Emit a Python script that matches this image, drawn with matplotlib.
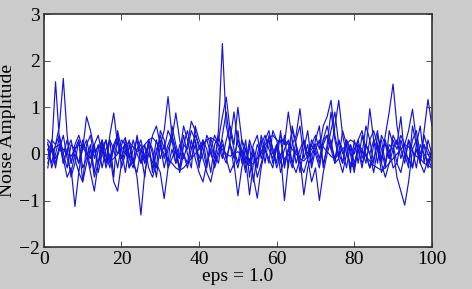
import numpy as np
import matplotlib
matplotlib.use("Agg")
import matplotlib.pyplot as plt

x = np.arange(1, 101)

s1 = [0.2, 0.1, 1.55, 0.3, -0.2, 0.1, 0.3, -0.1, -0.4, 0.2,
      0.1, -0.3, 0.2, 0.4, 0.0, -0.2, 0.3, 0.1, -0.3, 0.2,
      0.35, -0.1, -0.3, 0.1, 0.2, -0.2, 0.0, 0.4, 0.6, 0.2,
      0.5, 1.23, 0.4, 0.1, -0.3, 0.2, 0.1, 0.5, 0.3, -0.1,
      0.2, 0.3, 0.0, -0.2, 0.5, 2.37, 0.6, 0.2, -0.1, 0.3,
      0.1, -0.2, 0.3, 0.0, -0.3, 0.2, 0.4, 0.1, -0.1, 0.2,
      0.3, -0.2, 0.1, 0.5, 0.2, -0.1, 0.3, 0.0, 0.2, 0.4,
      0.1, 0.6, 0.8, 1.15, 0.4, 0.0, -0.2, 0.3, 0.1, -0.3,
      0.2, 0.1, -0.2, 0.3, 0.5, 0.2, -0.1, 0.4, 0.9, 1.5,
      0.6, 0.1, -0.2, 0.3, 0.1, -0.3, 0.2, 0.0, -0.2, 0.1]

s2 = [-0.1, 0.3, 0.2, 0.6, 1.62, 0.4, -0.2, 0.1, 0.3, -0.3,
      -0.1, 0.2, -0.4, 0.1, 0.3, -0.2, 0.4, 0.88, 0.2, -0.1,
      0.2, -0.3, 0.1, 0.3, -0.2, 0.0, 0.2, -0.4, 0.1, 0.3,
      -0.1, 0.2, 0.4, 0.0, -0.3, 0.2, 0.5, 0.1, 0.3, -0.2,
      0.0, 0.4, 0.2, -0.1, 0.3, 0.8, 1.22, 0.5, 0.1, -0.2,
      0.3, 0.1, -0.2, 0.2, 0.4, -0.1, 0.2, 0.3, -0.2, 0.1,
      0.4, 0.2, 0.9, 0.3, -0.2, 0.1, 0.3, -0.1, 0.2, 0.0,
      -0.3, 0.2, 0.4, 0.1, -0.2, 0.3, 0.0, 0.2, -0.3, 0.1,
      0.3, -0.1, 0.2, 0.0, -0.4, 0.1, 0.3, -0.2, 0.2, 0.1,
      -0.5, -0.8, -1.1, -0.6, 0.1, 0.3, -0.2, 0.5, 1.17, 0.6]

s3 = [-0.2, 0.1, -0.3, 0.2, -0.1, -0.5, -0.3, -1.13, -0.4, -0.6,
      -0.2, 0.1, -0.5, -0.2, 0.2, -0.3, 0.0, -0.6, -0.8, -0.2,
      0.1, -0.3, -0.1, -0.5, -1.31, -0.4, 0.0, -0.2, 0.3, -0.1,
      0.2, -0.3, -0.1, 0.1, -0.4, 0.0, -0.2, 0.3, -0.1, -0.4,
      -0.6, -0.2, 0.1, -0.3, 0.0, 0.2, -0.1, -0.4, -0.2, -0.9,
      -0.3, 0.1, -0.2, 0.0, -0.5, -0.2, 0.1, -0.1, -0.3, 0.2,
      -0.4, -0.1, 0.0, -0.3, 0.1, -0.2, -0.4, -0.1, -0.6, -0.3,
      -1.0, -0.4, 0.0, 0.3, -0.2, -0.1, -0.4, 0.0, -0.2, -0.3,
      0.1, -0.2, 0.0, -0.3, -0.1, 0.2, -0.4, -0.2, 0.1, -0.3,
      -0.2, -0.4, 0.0, -0.1, -0.3, 0.1, -0.2, -0.4, -0.1, -0.3]

s4 = [0.3, 0.2, -0.1, 0.1, 0.0, 0.3, -0.2, 0.2, 0.4, 0.1,
      0.8, 0.5, 0.1, -0.2, 0.3, 0.0, -0.3, 0.2, 0.4, -0.1,
      0.3, 0.0, -0.2, 0.1, 0.3, -0.1, 0.2, -0.3, 0.0, 0.4,
      0.1, 0.5, 0.3, 0.88, 0.3, -0.1, 0.2, 0.7, 0.5, 0.1,
      0.3, -0.2, 0.1, 0.4, 0.2, -0.1, 0.3, 0.6, 0.2, 1.0,
      0.3, -0.1, -0.88, -0.2, 0.2, 0.0, 0.3, 0.5, 0.1, -0.3,
      0.0, -1.0, -0.2, 0.2, 0.4, 0.97, 0.2, -0.1, 0.3, 0.1,
      -0.2, 0.3, 0.6, 0.2, -0.1, 0.3, 0.1, -0.3, 0.2, 0.0,
      0.3, 0.5, 0.1, 0.97, 0.3, -0.2, 0.4, 0.2, -0.1, 0.3,
      0.1, 0.4, 0.2, -0.2, 0.3, 0.5, 0.0, 0.2, -0.3, 0.1]

s5 = [0.1, -0.2, 0.2, 0.4, 0.0, -0.3, 0.2, 0.1, -0.2, 0.3,
      0.0, -0.4, -0.8, -0.2, 0.1, 0.3, -0.1, 0.2, 0.0, 0.3,
      0.2, -0.1, 0.3, 0.0, -0.2, 0.2, -0.3, -0.5, -0.2, -0.4,
      -0.96, -0.3, 0.1, -0.2, 0.2, 0.0, -0.3, 0.1, 0.4, 0.2,
      -0.1, -0.4, -0.6, -0.2, 0.1, 0.3, -0.1, 0.2, 0.0, -0.3,
      0.1, -0.3, -0.1, -0.5, -0.95, -0.3, 0.1, 0.3, 0.0, 0.2,
      -0.2, 0.1, 0.3, -0.2, -0.4, -0.1, -0.88, -0.3, 0.0, 0.2,
      -0.1, 0.3, 0.4, 0.1, 0.6, 1.15, 0.4, 0.0, 0.2, -0.2,
      0.1, -0.3, 0.2, 0.0, 0.3, 0.1, -0.2, -0.5, -0.2, 0.1,
      0.3, -0.1, 0.2, 0.5, 0.96, 0.3, -0.1, 0.2, 0.0, -0.2]

s6 = [0.1, 0.05, 0.15, 0.2, 0.1, 0.0, -0.05, 0.1, 0.2, 0.15,
      0.0, -0.1, 0.05, 0.15, 0.1, -0.05, -0.15, -0.1, 0.0, 0.1,
      0.2, 0.25, 0.15, 0.05, 0.1, 0.2, 0.3, 0.35, 0.25, 0.15,
      0.0, -0.1, -0.2, -0.3, -0.35, -0.3, -0.2, -0.1, 0.0, 0.1,
      0.2, 0.3, 0.35, 0.3, 0.2, 0.1, 0.0, -0.05, 0.0, 0.05,
      -0.05, -0.15, -0.25, -0.2, -0.1, 0.05, 0.2, 0.35, 0.4, 0.3,
      0.25, 0.3, 0.2, 0.1, 0.0, -0.1, -0.15, -0.05, 0.1, 0.2,
      0.25, 0.15, 0.05, -0.05, -0.1, 0.0, 0.1, 0.2, 0.3, 0.25,
      0.15, 0.05, -0.05, -0.15, -0.25, -0.3, -0.35, -0.3, -0.2, -0.1,
      0.0, 0.1, 0.2, 0.15, 0.05, -0.05, -0.1, -0.2, -0.25, -0.3]

s7 = [0.25, -0.3, 0.0, 0.35, -0.2, 0.1, -0.5, -0.2, 0.3, -0.6,
      0.2, 0.4, -0.1, 0.2, -0.3, 0.1, 0.3, -0.5, 0.5, 0.1,
      -0.4, 0.2, -0.2, 0.4, 0.0, -0.5, 0.3, 0.1, -0.3, 0.5,
      0.3, -0.2, 0.6, 0.2, -0.1, 0.4, 0.0, -0.3, 0.6, 0.3,
      0.1, -0.3, 0.35, 0.0, -0.2, 0.4, 0.9, 0.2, -0.3, 0.5,
      -0.2, 0.3, -0.5, 0.1, -0.3, 0.4, 0.1, -0.2, 0.5, 0.3,
      -0.1, 0.4, -0.3, 0.6, 0.2, -0.4, 0.1, 0.5, -0.2, 0.3,
      0.6, -0.3, 0.2, 0.9, 0.3, -0.1, 0.5, 0.2, -0.4, 0.3,
      -0.2, 0.4, 0.0, -0.3, 0.2, 0.5, -0.2, 0.3, -0.1, 0.4,
      0.2, 0.8, -0.1, 0.3, -0.3, 0.2, 0.6, -0.2, 0.3, 0.0]

s8 = [-0.3, 0.2, -0.2, 0.1, 0.4, -0.1, -0.4, 0.0, -0.2, 0.1,
      0.3, -0.1, 0.2, -0.4, 0.0, 0.3, -0.2, 0.1, 0.4, -0.3,
      0.0, 0.3, -0.2, -0.4, 0.1, -0.2, 0.3, 0.0, -0.5, 0.2,
      -0.3, 0.1, 0.3, -0.2, 0.0, 0.6, 0.3, -0.1, 0.2, -0.3,
      0.3, 0.1, -0.4, 0.2, 0.4, 0.0, -0.2, 0.3, 0.9, 0.2,
      0.0, -0.4, 0.2, -0.6, 0.0, 0.3, -0.2, 0.4, 0.1, -0.2,
      0.5, -0.3, 0.1, -0.2, 0.3, 0.6, -0.1, 0.2, -0.3, 0.1,
      0.3, -0.2, 0.1, 0.5, 0.9, 0.2, -0.2, 0.3, 0.0, -0.4,
      0.2, 0.0, 0.6, 0.3, -0.2, 0.4, 0.1, -0.3, 0.5, 0.2,
      -0.2, 0.3, 0.0, -0.3, 0.6, 0.2, -0.2, 0.4, 0.1, -0.1]

series = [s1, s2, s3, s4, s5, s6, s7, s8]

plt.rcParams["font.family"] = ["Liberation Serif", "DejaVu Serif"]
fig = plt.figure(figsize=(4.72, 2.89), dpi=100, facecolor="#cbcbcb")
ax = fig.add_axes([0.093, 0.145, 0.822, 0.806])
for s in series:
    ax.plot(x, s, color="#1414d8", linewidth=0.85)

ax.set_xlim(0, 100)
ax.set_ylim(-2, 3)
ax.set_xticks(np.arange(0, 101, 20))
ax.set_yticks(np.arange(-2, 4, 1))
ax.tick_params(direction="in", top=True, right=True, labelsize=14,
               length=4, width=0.6, pad=3, colors="#333333",
               labelcolor="black")
for sp in ax.spines.values():
    sp.set_linewidth(1.2)
    sp.set_color("#333333")
ax.set_xlabel("eps = 1.0", fontsize=14, labelpad=0)
ax.set_ylabel("Noise Amplitude", fontsize=14, labelpad=2)

fig.savefig("out.png", dpi=100, facecolor=fig.get_facecolor())
